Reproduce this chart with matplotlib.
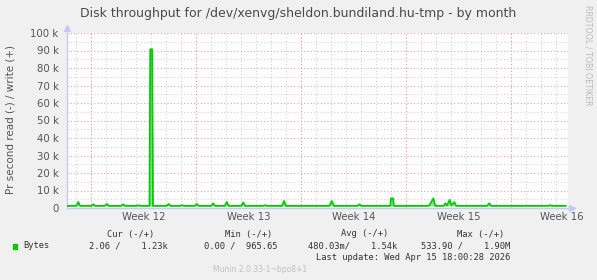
import matplotlib
matplotlib.use("Agg")
import matplotlib.pyplot as plt
import numpy as np

# time in days from left edge of graph, write bytes/s
days = [0.0, 0.62, 0.75, 0.88, 1.62, 1.75, 1.88, 2.52, 2.65, 2.78,
        3.62, 3.75, 3.88, 4.65, 4.78, 4.91, 5.5, 5.55, 5.68, 5.73,
        6.65, 6.78, 6.91, 7.54, 7.67, 7.8, 8.52, 8.65, 8.78,
        9.62, 9.75, 9.88, 10.52, 10.65, 10.78, 11.62, 11.75, 11.88,
        13.09, 13.22, 13.35, 14.34, 14.47, 14.6, 17.5, 17.65, 17.8,
        19.36, 19.49, 19.62, 21.55, 21.6, 21.74, 21.79,
        24.12, 24.25, 24.42, 24.55, 25.12, 25.22, 25.33, 25.51, 25.64,
        25.82, 25.95, 28.02, 28.15, 28.28, 32.07, 32.2, 32.33, 33.25]
write_bytes = [1200, 1200, 3400, 1200, 1200, 2100, 1200, 1200, 2300, 1200,
               1200, 2100, 1200, 1200, 1600, 1200, 1200, 90700, 90700, 1200,
               1200, 2300, 1200, 1200, 1600, 1200, 1200, 2300, 1200,
               1200, 2700, 1200, 1200, 3400, 1200, 1200, 3200, 1200,
               1200, 1600, 1200, 1200, 4000, 1200, 1200, 4000, 1200,
               1200, 2100, 1200, 1200, 5500, 5500, 1200,
               1200, 2800, 5500, 1200, 1200, 2700, 1400, 4600, 1500,
               3400, 1200, 1200, 2700, 1200, 1200, 1600, 1200, 1200]
base_level = 1200

week_starts = [1.6, 8.6, 15.6, 22.6, 29.6]
week_label_pos = [5.1, 12.1, 19.1, 26.1, 33.0]
week_labels = ["Week 12", "Week 13", "Week 14", "Week 15", "Week 16"]
yticks = [0, 10000, 20000, 30000, 40000, 50000, 60000, 70000, 80000, 90000, 100000]
ytick_labels = ["0", "10 k", "20 k", "30 k", "40 k", "50 k", "60 k", "70 k", "80 k", "90 k", "100 k"]

W, H = 597, 280
fig = plt.figure(figsize=(W / 100, H / 100), dpi=100, facecolor="#f0f0f0")
ax = fig.add_axes([67 / W, (H - 208) / H, 501 / W, 175 / H])
ax.set_facecolor("white")
ax.set_xlim(0, 33.4)
ax.set_ylim(0, 100000)

red = "#f0a0a0"
gray = "#d0d0d0"
dot = (0, (1, 2))
for d in np.arange(0.6, 33.4, 1.0):
    ax.axvline(d, color=gray, lw=0.8, ls=dot, zorder=1)
for y in np.arange(5000, 100001, 10000):
    ax.axhline(y, color=gray, lw=0.8, ls=dot, zorder=1)
for d in week_starts:
    ax.axvline(d, color=red, lw=0.8, ls=dot, zorder=2)
for y in yticks[1:]:
    ax.axhline(y, color=red, lw=0.8, ls=dot, zorder=2)

ax.fill_between(days, base_level, write_bytes, color="#8fe08f", lw=0, zorder=3)
ax.plot(days, write_bytes, color="#00cc00", lw=1.3, zorder=4)

for s in ["top", "right"]:
    ax.spines[s].set_visible(False)
for s in ["left", "bottom"]:
    ax.spines[s].set_color("#c8c8f0")
    ax.spines[s].set_linewidth(1)
ax.plot([0], [1.03], marker="^", color="#c8c8f0", ms=4, transform=ax.transAxes, clip_on=False)
ax.plot([1.008], [0], marker=">", color="#c8c8f0", ms=4, transform=ax.transAxes, clip_on=False)

ax.set_yticks(yticks)
ax.set_yticklabels(ytick_labels)
ax.set_xticks(week_label_pos)
ax.set_xticklabels(week_labels)
ax.tick_params(length=0, labelsize=7.3, colors="#555555", pad=6)
ax.tick_params(axis="x", pad=3)

fig.text(298 / W, 1 - 14 / H, "Disk throughput for /dev/xenvg/sheldon.bundiland.hu-tmp - by month",
         ha="center", va="center", fontsize=9.0, color="#4a4a4a")
fig.text(11 / W, 1 - 120 / H, "Pr second read (-) / write (+)", rotation=90,
         ha="center", va="center", fontsize=7.5, color="#555555")
fig.text(588 / W, 1 - 5 / H, "RRDTOOL / TOBI OETIKER", rotation=270,
         ha="center", va="top", fontsize=5.7, color="#bbbbbb")

mono = dict(family="DejaVu Sans Mono", fontsize=6.3, color="#333333", va="center")
y1 = 1 - 234 / H
y2 = 1 - 246 / H
y3 = 1 - 257 / H
fig.text(154 / W, y1, "Cur (-/+)", ha="right", **mono)
fig.text(272 / W, y1, "Min (-/+)", ha="right", **mono)
fig.text(388 / W, y1, "Avg (-/+)", ha="right", **mono)
fig.text(504 / W, y1, "Max (-/+)", ha="right", **mono)
fig.patches.append(plt.Rectangle((12.7 / W, 1 - 248.5 / H), 4.6 / W, 4.6 / H,
                                 transform=fig.transFigure, color="#00cc00"))
fig.text(23 / W, y2, "Bytes", ha="left", **mono)
fig.text(168 / W, y2, "2.06 /    1.23k", ha="right", **mono)
fig.text(278 / W, y2, "0.00 /  965.65", ha="right", **mono)
fig.text(397 / W, y2, "480.03m/    1.54k", ha="right", **mono)
fig.text(510 / W, y2, "533.90 /    1.90M", ha="right", **mono)
fig.text(510 / W, y3, "Last update: Wed Apr 15 18:00:28 2026", ha="right", **mono)
fig.text(260 / W, 1 - 269 / H, "Munin 2.0.33-1~bpo8+1", ha="center", va="center",
         fontsize=5.5, color="#c0c0c0")

fig.savefig("out.png", dpi=100, facecolor=fig.get_facecolor())
